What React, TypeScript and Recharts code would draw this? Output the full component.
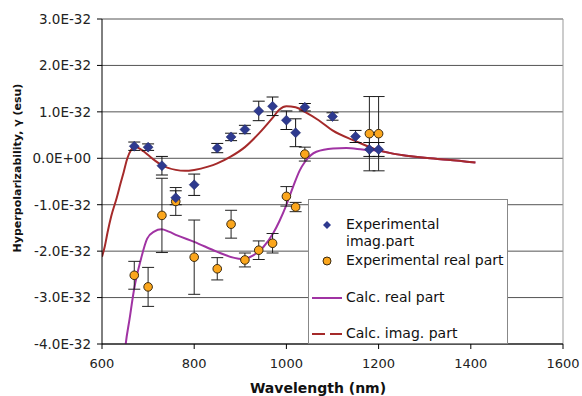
import {
  ComposedChart,
  Line,
  Scatter,
  ErrorBar,
  XAxis,
  YAxis,
  CartesianGrid,
  ReferenceLine,
} from "recharts";

// wavelengths (nm) of the measured points
const imagWavelengths = [670, 700, 730, 760, 800, 850, 880, 910, 940, 970, 1000, 1020, 1040, 1100, 1150, 1180, 1200];
// values in units of 1E-32 esu
const expImag = [0.26, 0.24, -0.16, -0.85, -0.57, 0.22, 0.46, 0.62, 1.02, 1.12, 0.82, 0.55, 1.1, 0.9, 0.47, 0.19, 0.19];
const expImagErr = [0.09, 0.07, 0.2, 0.15, 0.23, 0.1, 0.08, 0.09, 0.21, 0.2, 0.2, 0.3, 0.08, 0.08, 0.13, 0.15, 0.15];

const realWavelengths = [670, 700, 730, 760, 800, 850, 880, 910, 940, 970, 1000, 1020, 1040, 1180, 1200];
const expReal = [-2.52, -2.77, -1.23, -0.93, -2.13, -2.38, -1.42, -2.19, -1.98, -1.83, -0.82, -1.05, 0.09, 0.53, 0.53];
const expRealErr = [0.3, 0.42, 0.8, 0.3, 0.8, 0.24, 0.3, 0.15, 0.2, 0.21, 0.21, 0.1, 0.15, 0.8, 0.8];

// calculated curves
const calcImagX = [600, 606, 612, 620, 632, 640, 647, 655, 663, 672, 680, 690, 700, 715, 730, 760, 780, 800, 830, 850, 880, 910, 940, 970, 985, 1000, 1020, 1040, 1070, 1100, 1150, 1200, 1250, 1300, 1350, 1410];
const calcImag = [-2.12, -1.9, -1.6, -1.25, -0.85, -0.55, -0.3, 0.0, 0.18, 0.25, 0.22, 0.15, 0.07, -0.05, -0.15, -0.25, -0.27, -0.25, -0.18, -0.11, 0.04, 0.24, 0.53, 0.87, 1.05, 1.12, 1.1, 1.0, 0.82, 0.6, 0.37, 0.17, 0.07, 0.01, -0.03, -0.09];

const calcRealX = [640, 650, 660, 670, 684, 698, 713, 729, 745, 763, 800, 849, 885, 903, 928, 950, 971, 985, 999, 1015, 1029, 1040, 1065, 1101, 1130, 1165, 1198, 1250, 1300, 1350, 1410];
const calcReal = [-5.5, -4.13, -3.45, -2.8, -2.19, -1.73, -1.58, -1.53, -1.58, -1.66, -1.8, -2.01, -2.14, -2.17, -2.09, -1.91, -1.62, -1.35, -1.03, -0.6, -0.26, -0.08, 0.14, 0.21, 0.22, 0.19, 0.16, 0.07, 0.01, -0.03, -0.09];

const xTicks = [600, 800, 1000, 1200, 1400, 1600];
const yTicks = [-4, -3, -2, -1, 0, 1, 2, 3];

const BLUE = "#2E3A8F";
const ORANGE = "#FBA61C";
const PURPLE = "#A033A3";
const DARKRED = "#A52A2A";

const imagData = imagWavelengths.map((x, i) => ({ x, y: expImag[i], e: expImagErr[i] }));
const realData = realWavelengths.map((x, i) => ({ x, y: expReal[i], e: expRealErr[i] }));
const imagCurve = calcImagX.map((x, i) => ({ x, y: calcImag[i] }));
const realCurve = calcRealX.map((x, i) => ({ x, y: calcReal[i] }));

const fmtY = (v: number) => (v === 0 ? "0.0E+00" : `${v.toFixed(1)}E-32`);

const Diamond = (props: any) => {
  const { cx, cy } = props;
  return (
    <polygon
      points={`${cx},${cy - 5} ${cx + 5},${cy} ${cx},${cy + 5} ${cx - 5},${cy}`}
      fill={BLUE}
      stroke="#1c2566"
      strokeWidth={0.5}
    />
  );
};

const Dot = (props: any) => {
  const { cx, cy } = props;
  return <circle cx={cx} cy={cy} r={4.3} fill={ORANGE} stroke="#3a2a10" strokeWidth={1} />;
};

const font = "'DejaVu Sans', Verdana, sans-serif";

function LegendBox() {
  const txt = { position: "absolute" as const, left: 37, fontSize: 14, color: "#111", lineHeight: "17px" };
  return (
    <div
      style={{
        position: "absolute",
        left: 308,
        top: 199,
        width: 200,
        height: 145,
        background: "#fff",
        border: "1px solid #888",
        boxSizing: "border-box",
        fontFamily: font,
      }}
    >
      <svg width={200} height={145} style={{ position: "absolute", left: 0, top: 0 }}>
        <polygon points="18,21 22,25 18,29 14,25" fill={BLUE} />
        <circle cx={18} cy={61} r={4} fill={ORANGE} stroke="#3a2a10" strokeWidth={1} />
        <line x1={3} y1={98} x2={33} y2={98} stroke={PURPLE} strokeWidth={2} />
        <line x1={3} y1={134} x2={33} y2={134} stroke={DARKRED} strokeWidth={2} strokeDasharray="13 5" />
      </svg>
      <div style={{ ...txt, top: 16 }}>Experimental</div>
      <div style={{ ...txt, top: 33 }}>imag.part</div>
      <div style={{ ...txt, top: 52 }}>Experimental real part</div>
      <div style={{ ...txt, top: 89 }}>Calc. real part</div>
      <div style={{ ...txt, top: 125 }}>Calc. imag. part</div>
    </div>
  );
}

export default function App() {
  return (
    <div style={{ position: "absolute", left: 0, top: 0, width: 582, height: 396, background: "#fff", fontFamily: font }}>
      <ComposedChart width={582} height={396} margin={{ top: 19, right: 19, bottom: 22, left: 0 }}>
        <CartesianGrid vertical={false} stroke="#555" />
        <XAxis
          type="number"
          dataKey="x"
          domain={[600, 1600]}
          ticks={xTicks}
          allowDataOverflow
          height={30}
          stroke="#000"
          tickSize={5}
          tickMargin={10}
          tick={{ fill: "#222", fontSize: 13, fontFamily: font }}
        />
        <YAxis
          type="number"
          domain={[-4, 3]}
          ticks={yTicks}
          allowDataOverflow
          width={102}
          stroke="#000"
          tickSize={5}
          tickMargin={6}
          tickFormatter={fmtY}
          tick={{ fill: "#222", fontSize: 13.5, fontFamily: font }}
        />
        <ReferenceLine x={1600} stroke="#999" />
        <Line data={realCurve} dataKey="y" type="monotone" stroke={PURPLE} strokeWidth={2} dot={false} isAnimationActive={false} />
        <Line data={imagCurve} dataKey="y" type="monotone" stroke={DARKRED} strokeWidth={2} dot={false} isAnimationActive={false} />
        <Scatter data={realData} dataKey="y" shape={<Dot />} isAnimationActive={false}>
          <ErrorBar dataKey="e" direction="y" width={6} stroke="#222" strokeWidth={1} />
        </Scatter>
        <Scatter data={imagData} dataKey="y" shape={<Diamond />} isAnimationActive={false}>
          <ErrorBar dataKey="e" direction="y" width={6} stroke="#111" strokeWidth={1} />
        </Scatter>
      </ComposedChart>
      <LegendBox />
      <div
        style={{
          position: "absolute",
          left: 17,
          top: 168,
          transform: "translate(-50%, -50%) rotate(-90deg)",
          whiteSpace: "nowrap",
          fontSize: 11,
          fontWeight: "bold",
          color: "#111",
        }}
      >
        Hyperpolarizability, γ (esu)
      </div>
      <div
        style={{
          position: "absolute",
          left: 318,
          top: 388,
          transform: "translate(-50%, -50%)",
          whiteSpace: "nowrap",
          fontSize: 14,
          fontWeight: "bold",
          color: "#111",
        }}
      >
        Wavelength (nm)
      </div>
    </div>
  );
}
